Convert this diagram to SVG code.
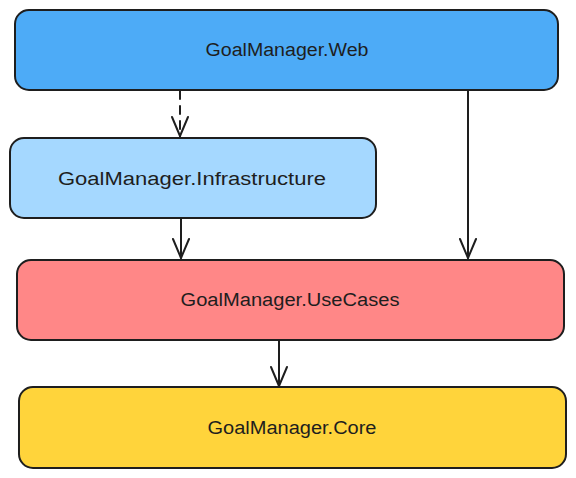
<svg xmlns="http://www.w3.org/2000/svg" width="576" height="478" viewBox="0 0 576 478">
<style>
.box{stroke:#1e1e1e;stroke-width:2;}
.lbl{font-family:"Liberation Sans",Arial,sans-serif;font-size:18px;fill:#1e1e1e;text-anchor:middle;dominant-baseline:central;}
.edge{stroke:#1e1e1e;stroke-width:2;fill:none;stroke-linecap:round;stroke-linejoin:round;}
</style>
<rect width="576" height="478" fill="#ffffff"/>
<g id="web">
<rect class="box" x="15" y="10" width="543" height="80" rx="14" fill="#4dabf7"/>
<text class="lbl" x="287" y="50" textLength="163" lengthAdjust="spacingAndGlyphs">GoalManager.Web</text>
</g>
<g id="infrastructure">
<rect class="box" x="10" y="138" width="366" height="80" rx="14" fill="#a5d8ff"/>
<text class="lbl" x="192" y="179" textLength="268" lengthAdjust="spacingAndGlyphs">GoalManager.Infrastructure</text>
</g>
<g id="usecases">
<rect class="box" x="17" y="260" width="547" height="80" rx="14" fill="#ff8787"/>
<text class="lbl" x="290" y="300" textLength="219" lengthAdjust="spacingAndGlyphs">GoalManager.UseCases</text>
</g>
<g id="core">
<rect class="box" x="19" y="387" width="547" height="81" rx="14" fill="#ffd43b"/>
<text class="lbl" x="292" y="428" textLength="169" lengthAdjust="spacingAndGlyphs">GoalManager.Core</text>
</g>
<g id="connectors">
<path class="edge" d="M180 91 L180 137" stroke-dasharray="8 7"/>
<path class="edge" d="M172 117 L180 136 L188 117"/>
<path class="edge" d="M181 219 L181 258"/>
<path class="edge" d="M173 239 L181 258 L189 239"/>
<path class="edge" d="M468 91 L468 258"/>
<path class="edge" d="M460 239 L468 258 L476 239"/>
<path class="edge" d="M279 341 L279 386"/>
<path class="edge" d="M271 367 L279 386 L287 367"/>
</g>
</svg>
